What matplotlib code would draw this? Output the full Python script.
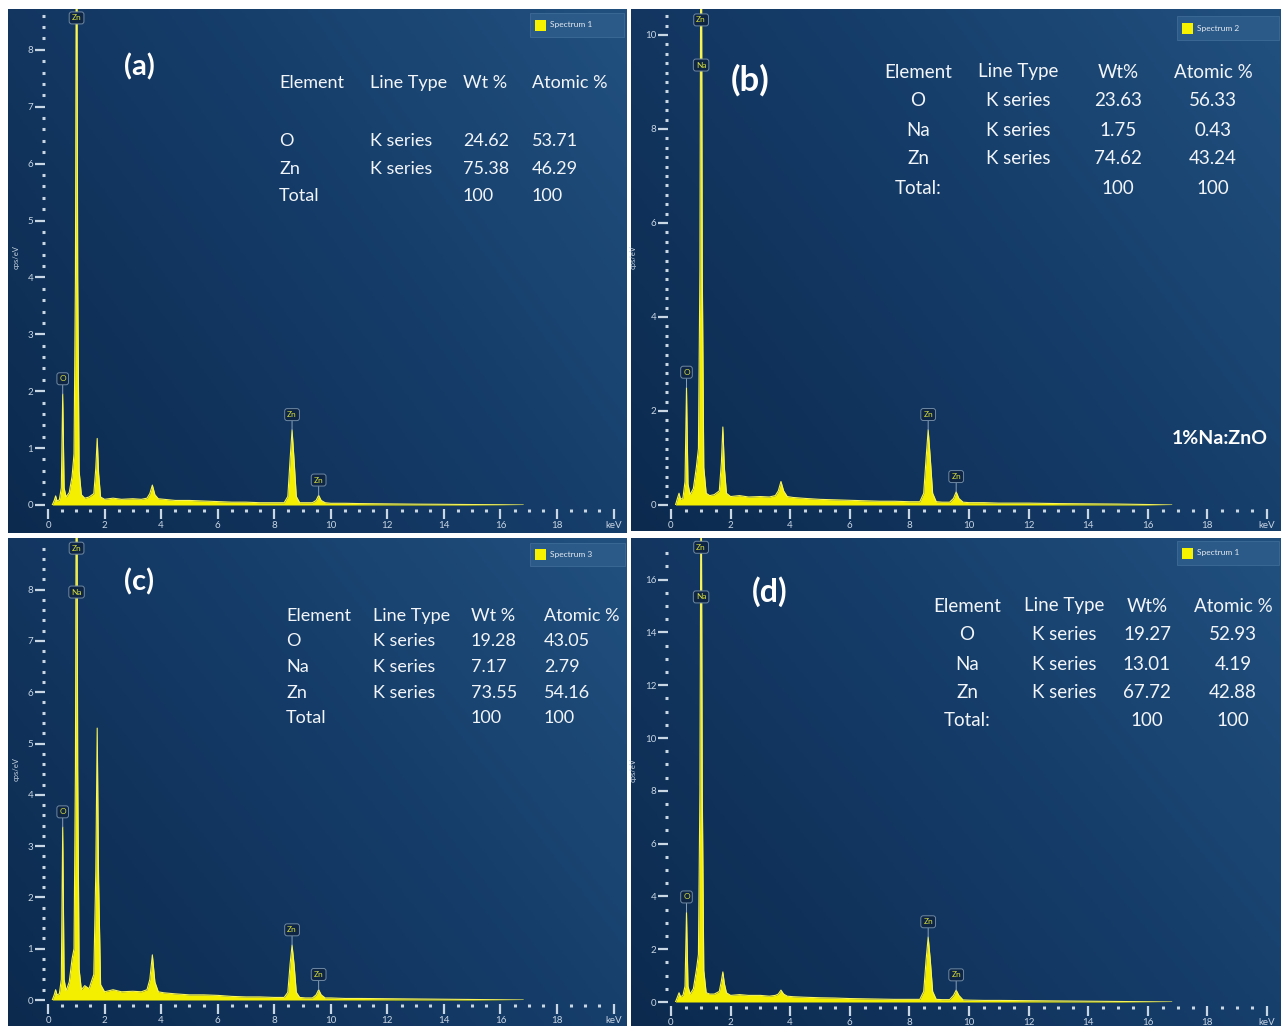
""" EDS spectra of ZnO / Na:ZnO, four panels """

import numpy as np
import matplotlib.pyplot as plt
from matplotlib.colors import LinearSegmentedColormap
from matplotlib.patches import Rectangle

plt.rcParams['font.family'] = ['Lato', 'DejaVu Sans']

W, H = 1282, 1028

# energy grid (keV) shared by the four spectra
energy = [0.15, 0.22, 0.27, 0.32, 0.40, 0.47, 0.52, 0.57, 0.64, 0.75,
          0.85, 0.92, 0.97, 1.01, 1.05, 1.10, 1.18, 1.30, 1.45, 1.62,
          1.69, 1.74, 1.79, 1.86, 2.0, 2.3, 2.6, 3.0, 3.3, 3.5,
          3.6, 3.69, 3.78, 3.9, 4.1, 4.5, 5.0, 5.5, 6.0, 6.5,
          7.0, 7.5, 8.0, 8.35, 8.48, 8.56, 8.63, 8.70, 8.78, 8.9,
          9.1, 9.35, 9.48, 9.57, 9.66, 9.8, 10.0, 10.5, 11.0, 12.0,
          13.0, 14.0, 15.0, 16.0, 16.8]

cps_a = [0.0, 0.08, 0.16, 0.07, 0.09, 0.3, 1.95, 0.3, 0.14, 0.22,
         0.5, 0.9, 4.0, 12.0, 4.0, 0.6, 0.18, 0.12, 0.14, 0.2,
         0.65, 1.17, 0.55, 0.14, 0.1, 0.12, 0.1, 0.11, 0.1, 0.12,
         0.2, 0.35, 0.18, 0.11, 0.1, 0.08, 0.08, 0.07, 0.06, 0.05,
         0.05, 0.04, 0.04, 0.04, 0.15, 0.8, 1.32, 0.8, 0.15, 0.04,
         0.04, 0.04, 0.08, 0.17, 0.08, 0.04, 0.03, 0.03, 0.025, 0.02,
         0.015, 0.012, 0.008, 0.005, 0.0]

cps_b = [0.0, 0.15, 0.25, 0.12, 0.15, 0.5, 2.5, 0.45, 0.22, 0.35,
         0.8, 1.2, 5.0, 15.0, 5.0, 0.8, 0.25, 0.2, 0.22, 0.3,
         0.9, 1.66, 0.8, 0.25, 0.18, 0.2, 0.17, 0.18, 0.17, 0.2,
         0.3, 0.5, 0.3, 0.18, 0.16, 0.14, 0.12, 0.11, 0.1, 0.09,
         0.08, 0.08, 0.07, 0.07, 0.25, 1.0, 1.6, 1.0, 0.25, 0.07,
         0.06, 0.06, 0.14, 0.28, 0.14, 0.06, 0.05, 0.05, 0.04, 0.04,
         0.03, 0.025, 0.02, 0.01, 0.0]

cps_c = [0.0, 0.1, 0.2, 0.1, 0.12, 0.4, 3.37, 0.4, 0.18, 0.35,
         0.8, 1.0, 4.5, 13.0, 4.5, 0.6, 0.2, 0.28, 0.22, 0.5,
         2.5, 5.3, 2.3, 0.3, 0.16, 0.2, 0.16, 0.17, 0.16, 0.2,
         0.4, 0.88, 0.35, 0.16, 0.14, 0.12, 0.1, 0.1, 0.09, 0.07,
         0.06, 0.06, 0.05, 0.05, 0.15, 0.7, 1.07, 0.7, 0.15, 0.05,
         0.04, 0.04, 0.1, 0.2, 0.1, 0.04, 0.04, 0.03, 0.03, 0.025,
         0.02, 0.015, 0.01, 0.005, 0.0]

cps_d = [0.0, 0.2, 0.35, 0.2, 0.25, 0.6, 3.4, 0.6, 0.3, 0.5,
         1.2, 1.8, 8.0, 22.0, 8.0, 1.2, 0.35, 0.3, 0.3, 0.4,
         0.8, 1.14, 0.7, 0.35, 0.25, 0.28, 0.25, 0.25, 0.22, 0.25,
         0.3, 0.45, 0.3, 0.22, 0.2, 0.18, 0.16, 0.15, 0.13, 0.12,
         0.11, 0.1, 0.1, 0.1, 0.4, 1.6, 2.46, 1.6, 0.4, 0.1,
         0.09, 0.09, 0.25, 0.45, 0.25, 0.08, 0.07, 0.06, 0.06, 0.05,
         0.04, 0.03, 0.02, 0.01, 0.0]

# peak markers: (label, energy) for visible peaks
peaks = [('O', 0.52), ('Zn', 8.63), ('Zn', 9.57)]
top_lbl_a = ['Zn']
top_lbl_b = ['Zn', 'Na']
top_lbl_c = ['Zn', 'Na']
top_lbl_d = ['Zn', 'Na']

hdr_a = ['Element', 'Line Type', 'Wt %', 'Atomic %']
rows_a = [['O', 'K series', '24.62', '53.71'],
          ['Zn', 'K series', '75.38', '46.29'],
          ['Total', '', '100', '100']]
hdr_b = ['Element', 'Line Type', 'Wt%', 'Atomic %']
rows_b = [['O', 'K series', '23.63', '56.33'],
          ['Na', 'K series', '1.75', '0.43'],
          ['Zn', 'K series', '74.62', '43.24'],
          ['Total:', '', '100', '100']]
hdr_c = ['Element', 'Line Type', 'Wt %', 'Atomic %']
rows_c = [['O', 'K series', '19.28', '43.05'],
          ['Na', 'K series', '7.17', '2.79'],
          ['Zn', 'K series', '73.55', '54.16'],
          ['Total', '', '100', '100']]
hdr_d = ['Element', 'Line Type', 'Wt%', 'Atomic %']
rows_d = [['O', 'K series', '19.27', '52.93'],
          ['Na', 'K series', '13.01', '4.19'],
          ['Zn', 'K series', '67.72', '42.88'],
          ['Total:', '', '100', '100']]

bgcmap = LinearSegmentedColormap.from_list('eds', ['#0c2a4e', '#143a66', '#21507f'])
TXT = '#f2f5f9'
TCK = '#c9d6e4'


def fx(x):
    return x / W


def fy(y):
    return 1 - y / H


fig = plt.figure(figsize=(W / 100, H / 100), dpi=100, facecolor='white')


def panel(box, x0, pxkev, y0, pxunit, cps, ystep, ymin_step, top_lbl, top_frac,
          spec, tag, tagpos, tagsize, hdr, rows, cols, rowy, align, fsize):
    l, t, r, b = box
    bg = fig.add_axes([fx(l), fy(b), fx(r - l), (b - t) / H])
    gx = np.linspace(0, 1, 256)
    gy = np.linspace(0, 1, 256)
    z = 0.62 * gx[None, :] + 0.38 * gy[:, None]
    bg.imshow(z, cmap=bgcmap, origin='lower', aspect='auto', extent=[0, 1, 0, 1])
    bg.set_axis_off()

    ax = fig.add_axes([fx(x0), fy(y0), 20 * pxkev / W, (y0 - t) / H])
    ax.patch.set_alpha(0)
    ymax = (y0 - t) / pxunit
    ax.set_xlim(0, 20)
    ax.set_ylim(0, ymax)
    ax.fill_between(energy, cps, color='#f4ef00', lw=0)
    ax.plot(energy, cps, color='#f8f45a', lw=0.8)

    for lbl, e in peaks:
        h = cps[energy.index(e)]
        ax.annotate(lbl, xy=(e, h), xytext=(0, 11), textcoords='offset points',
                    ha='center', va='center', fontsize=6, color='#d6dc3c',
                    bbox=dict(boxstyle='round,pad=0.3', fc='#0e2644', ec='#6f88a3', lw=0.7),
                    arrowprops=dict(arrowstyle='-', color='#8ca0b4', lw=0.7,
                                    shrinkA=0, shrinkB=0))
    for lbl, fr in zip(top_lbl, top_frac):
        ax.text(1.01, fr, lbl, transform=ax.get_xaxis_transform(), ha='center', va='center',
                fontsize=6, color='#d6dc3c',
                bbox=dict(boxstyle='round,pad=0.3', fc='#0e2644', ec='#6f88a3', lw=0.7))

    for s in ax.spines.values():
        s.set_visible(False)
    ax.spines['bottom'].set_position(('outward', 3))
    ax.spines['left'].set_position(('outward', 2))
    xt = np.arange(0, 21, 2)
    ax.set_xticks(xt)
    ax.set_xticklabels([str(v) for v in xt[:-1]] + ['keV'])
    ax.set_xticks(np.arange(0, 20.01, 0.5), minor=True)
    ax.set_yticks(np.arange(0, ymax - 0.15 * ystep, ystep))
    ax.set_yticks(np.arange(0, ymax - 0.1, ymin_step), minor=True)
    ax.tick_params(which='major', colors=TCK, labelsize=7, length=7, width=1.6, pad=1.5)
    ax.tick_params(which='minor', colors=TCK, length=2.2, width=2.2)
    ax.set_ylabel('cps/eV', fontsize=5.5, color=TCK, labelpad=6)

    # spectrum legend box
    lx0, ly0, lx1, ly1 = spec[1]
    fig.patches.append(Rectangle((fx(lx0), fy(ly1)), fx(lx1 - lx0), (ly1 - ly0) / H,
                                 transform=fig.transFigure, fc='#2b5a88', ec='#3e6b97', lw=0.6))
    fig.patches.append(Rectangle((fx(lx0 + 5), fy(ly1 - 6)), fx(11), 11 / H,
                                 transform=fig.transFigure, fc='#f7f200', ec='none'))
    fig.text(fx(lx0 + 20), fy((ly0 + ly1) / 2), spec[0], fontsize=6, color='#e4eaf2',
             ha='left', va='center')

    fig.text(fx(tagpos[0]), fy(tagpos[1]), tag, fontsize=tagsize, fontweight='bold',
             color='white', ha='center', va='center')

    for j, h in enumerate(hdr):
        fig.text(fx(cols[j]), fy(rowy[0]), h, fontsize=fsize, color=TXT, ha=align, va='center')
    for i, row in enumerate(rows):
        for j, v in enumerate(row):
            fig.text(fx(cols[j]), fy(rowy[i + 1]), v, fontsize=fsize, color=TXT,
                     ha=align, va='center')
    return ax


panel((8, 9, 627, 533), 48, 28.28, 505, 56.9, cps_a, 1, 0.2, top_lbl_a, [0.982],
      ('Spectrum 1', (530, 13, 624, 37)), '(a)', (139, 67), 21,
      hdr_a, rows_a, [279, 370, 463, 532], [83, 141, 169, 196], 'left', 13)

panel((631, 9, 1281, 531), 671, 29.8, 505, 47.0, cps_b, 2, 0.2, top_lbl_b, [0.978, 0.887],
      ('Spectrum 2', (1177, 16, 1279, 40)), '(b)', (750, 80), 25,
      hdr_b, rows_b, [918, 1018, 1118, 1213], [72, 101, 130, 159, 188], 'center', 13.5)

panel((8, 538, 627, 1026), 48, 28.28, 1000, 51.3, cps_c, 1, 0.2, top_lbl_c, [0.978, 0.883],
      ('Spectrum 3', (530, 543, 625, 566)), '(c)', (139, 582), 21,
      hdr_c, rows_c, [286, 373, 471, 544], [616, 641, 667, 693, 718], 'left', 13)

panel((631, 538, 1281, 1026), 671, 29.8, 1002, 26.4, cps_d, 2, 0.5, top_lbl_d, [0.98, 0.873],
      ('Spectrum 1', (1177, 541, 1279, 565)), '(d)', (770, 592), 23,
      hdr_d, rows_d, [967, 1064, 1147, 1233], [606, 635, 664, 692, 720], 'center', 13.5)

fig.text(fx(1268), fy(438), '1%Na:ZnO', fontsize=14, fontweight='bold', color='white',
         ha='right', va='center')

plt.savefig('out.png', dpi=100, facecolor='white')
